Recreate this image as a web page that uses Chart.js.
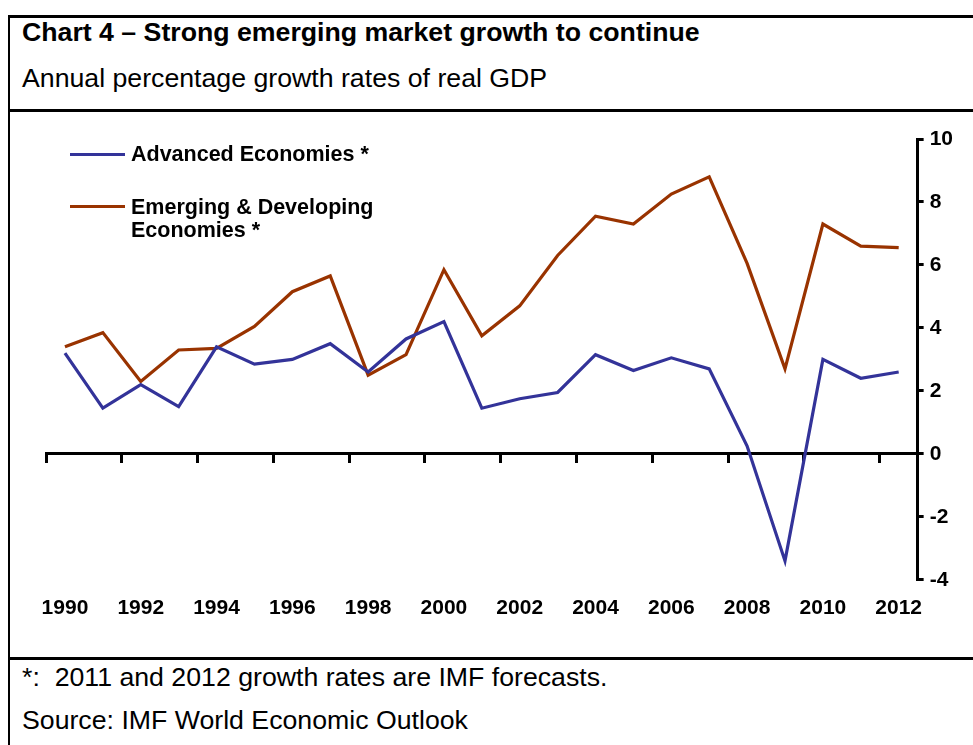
<!DOCTYPE html>
<html lang="en">
<head>
    <meta charset="UTF-8">
    <title>Chart 4 – Strong emerging market growth to continue</title>
    <script src="https://cdn.jsdelivr.net/npm/chart.js"></script>
    <style>
        body {
            margin: 0;
            width: 973px;
            height: 745px;
            overflow: hidden;
            background: #fff;
            position: relative;
            font-family: 'Liberation Sans', Arial, sans-serif;
            color: #000;
        }

        .frame {
            position: absolute;
            left: 8px;
            top: 15px;
            width: 1000px;
            height: 800px;
            border-left: 2px solid #000;
            border-top: 3px solid #000;
        }

        .rule {
            position: absolute;
            left: 8px;
            width: 1000px;
            height: 3px;
            background: #000;
        }

        .txt {
            position: absolute;
            left: 22px;
            font-size: 26.7px;
            line-height: 26px;
            white-space: nowrap;
        }

        .bold { font-weight: bold; }

        #wrap {
            position: absolute;
            left: 10px;
            top: 112px;
            width: 963px;
            height: 545px;
        }

        .leg-line {
            position: absolute;
            left: 70px;
            width: 55px;
            height: 3px;
        }

        .leg-txt {
            position: absolute;
            left: 131px;
            font-size: 21.5px;
            font-weight: bold;
            line-height: 23px;
            white-space: nowrap;
        }
    </style>
</head>
<body>
    <div class="frame"></div>
    <div class="rule" style="top:109px"></div>
    <div class="rule" style="top:657px"></div>

    <div class="txt bold" style="top:19px">Chart 4 – Strong emerging market growth to continue</div>
    <div class="txt" style="top:65px">Annual percentage growth rates of real GDP</div>

    <div id="wrap"><canvas id="grafico"></canvas></div>

    <div class="leg-line" style="top:153px;background:#333399"></div>
    <div class="leg-txt" style="top:143px">Advanced Economies *</div>
    <div class="leg-line" style="top:205px;background:#993300"></div>
    <div class="leg-txt" style="top:196px">Emerging &amp; Developing<br>Economies *</div>

    <div class="txt" style="top:664px">*:&nbsp; 2011 and 2012 growth rates are IMF forecasts.</div>
    <div class="txt" style="top:707px">Source: IMF World Economic Outlook</div>

    <script>
        const years = ['1990', '1991', '1992', '1993', '1994', '1995', '1996', '1997', '1998', '1999', '2000', '2001',
            '2002', '2003', '2004', '2005', '2006', '2007', '2008', '2009', '2010', '2011', '2012'];
        const advanced = [3.2, 1.45, 2.2, 1.5, 3.4, 2.85, 3.0, 3.5, 2.6, 3.65, 4.2, 1.45,
            1.75, 1.95, 3.15, 2.65, 3.05, 2.7, 0.25, -3.4, 3.0, 2.4, 2.6];
        const emerging = [3.4, 3.85, 2.3, 3.3, 3.35, 4.05, 5.15, 5.65, 2.5, 3.15, 5.85, 3.75,
            4.7, 6.3, 7.55, 7.3, 8.25, 8.8, 6.05, 2.7, 7.3, 6.6, 6.55];
        const yMin = -4;
        const yMax = 10;
        const yStep = 2;

        const fuente = "'Liberation Sans', Arial, sans-serif";

        new Chart(document.getElementById('grafico'), {
            type: 'line',
            data: {
                labels: years,
                datasets: [{
                    label: 'Advanced Economies *',
                    data: advanced,
                    borderColor: '#333399',
                    borderWidth: 3.2,
                    pointRadius: 0,
                    tension: 0
                }, {
                    label: 'Emerging & Developing Economies *',
                    data: emerging,
                    borderColor: '#993300',
                    borderWidth: 3.2,
                    pointRadius: 0,
                    tension: 0
                }]
            },
            options: {
                responsive: true,
                maintainAspectRatio: false,
                animation: false,
                layout: {
                    padding: { left: 36, right: 14, top: 27, bottom: 20 }
                },
                plugins: {
                    legend: { display: false },
                    tooltip: { enabled: false }
                },
                scales: {
                    // eje en el cero, solo marcas cada dos años
                    x: {
                        type: 'category',
                        position: { y: 0 },
                        offset: true,
                        grid: {
                            offset: true,
                            drawOnChartArea: false,
                            tickLength: 8,
                            color: '#000',
                            lineWidth: c => (c.index % 2 === 0 ? 3 : 0)
                        },
                        border: { color: '#000', width: 3 },
                        ticks: { display: false }
                    },
                    // etiquetas de años abajo
                    xLabels: {
                        type: 'category',
                        position: 'bottom',
                        offset: true,
                        grid: { display: false, drawTicks: false },
                        border: { display: false },
                        ticks: {
                            autoSkip: false,
                            maxRotation: 0,
                            padding: 16,
                            color: '#000',
                            font: { family: fuente, size: 21, weight: 'bold' },
                            callback: function (v, i) {
                                return i % 2 === 0 ? this.getLabelForValue(v) : '';
                            }
                        }
                    },
                    y: {
                        position: 'right',
                        min: yMin,
                        max: yMax,
                        grid: {
                            drawOnChartArea: false,
                            tickLength: 6,
                            lineWidth: 3,
                            color: '#000'
                        },
                        border: { color: '#000', width: 3 },
                        ticks: {
                            stepSize: yStep,
                            padding: 6,
                            color: '#000',
                            font: { family: fuente, size: 21, weight: 'bold' }
                        }
                    }
                }
            }
        });
    </script>
</body>
</html>
